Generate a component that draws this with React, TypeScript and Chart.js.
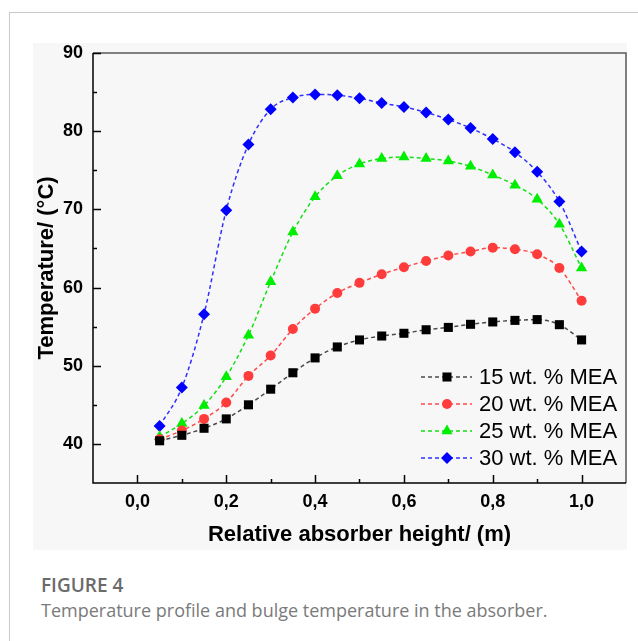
import React, { useEffect, useRef } from 'react';
import { Chart, registerables } from 'chart.js';
import { drawPoint } from 'chart.js/helpers';

Chart.register(...registerables);

// ---- data ----
const HEIGHTS = [0.05, 0.1, 0.15, 0.2, 0.25, 0.3, 0.35, 0.4, 0.45, 0.5, 0.55, 0.6, 0.65, 0.7, 0.75, 0.8, 0.85, 0.9, 0.95, 1.0];
const MEA15 = [40.4, 41.1, 42.0, 43.2, 45.0, 47.0, 49.1, 51.0, 52.4, 53.3, 53.8, 54.15, 54.6, 54.9, 55.3, 55.6, 55.8, 55.9, 55.25, 53.3];
const MEA20 = [40.6, 41.7, 43.2, 45.3, 48.7, 51.3, 54.7, 57.3, 59.3, 60.6, 61.7, 62.6, 63.4, 64.1, 64.6, 65.1, 64.9, 64.25, 62.5, 58.3];
const MEA25 = [40.9, 42.6, 44.9, 48.6, 53.9, 60.75, 67.1, 71.6, 74.3, 75.8, 76.5, 76.7, 76.5, 76.2, 75.5, 74.4, 73.1, 71.3, 68.1, 62.5];
const MEA30 = [42.3, 47.2, 56.6, 69.9, 78.3, 82.8, 84.3, 84.7, 84.6, 84.2, 83.6, 83.1, 82.4, 81.5, 80.4, 79.0, 77.3, 74.8, 71.0, 64.6];
const SERIES_LABELS = ['15 wt. % MEA', '20 wt. % MEA', '25 wt. % MEA', '30 wt. % MEA'];
const X_TICKS = [0, 0.2, 0.4, 0.6, 0.8, 1.0];
const Y_TICKS = [40, 50, 60, 70, 80, 90];
const X_RANGE = [-0.1, 1.1];
const Y_RANGE = [35, 90];
const X_TITLE = 'Relative absorber height/ (m)';
const Y_TITLE = 'Temperature/ (°C)';
const FIG_LABEL = 'FIGURE 4';
const FIG_CAPTION = 'Temperature profile and bulge temperature in the absorber.';

const FONT = 'Arial, "Liberation Sans", Helvetica, sans-serif';

const STYLES = [
  { line: '#4a4a4a', fill: '#000000', shape: 'rect', r: 6.4 },
  { line: '#ff4a4a', fill: '#ff3c3c', shape: 'circle', r: 5 },
  { line: '#12e012', fill: '#00ee00', shape: 'triangle', r: 6.5 },
  { line: '#3030ff', fill: '#0000ff', shape: 'rectRot', r: 6 },
];

const SERIES = [MEA15, MEA20, MEA25, MEA30];

const frameTicksPlugin = {
  id: 'frameTicks',
  beforeDatasetsDraw(chart: any) {
    const { ctx, chartArea: a, scales } = chart;
    const x = scales.x;
    const y = scales.y;
    ctx.save();
    ctx.lineWidth = 1.5;
    ctx.strokeStyle = '#5a5a5a';
    ctx.beginPath();
    ctx.moveTo(a.left, a.top);
    ctx.lineTo(a.right, a.top);
    ctx.lineTo(a.right, a.bottom);
    ctx.stroke();
    ctx.strokeStyle = '#000';
    ctx.beginPath();
    ctx.moveTo(a.left, a.top);
    ctx.lineTo(a.left, a.bottom);
    ctx.lineTo(a.right, a.bottom);
    ctx.stroke();

    const drawTicks = (scale: any, horizontal: boolean) => {
      const vals = scale.ticks.map((t: any) => t.value);
      const minors: number[] = [];
      for (let i = 0; i < vals.length - 1; i++) minors.push((vals[i] + vals[i + 1]) / 2);
      if (vals.length > 1) {
        const step = vals[1] - vals[0];
        const before = vals[0] - step / 2;
        const after = vals[vals.length - 1] + step / 2;
        if (before > scale.min + 1e-9) minors.push(before);
        if (after < scale.max - 1e-9) minors.push(after);
      }
      ctx.lineWidth = 1.5;
      ctx.strokeStyle = '#000';
      const seg = (v: number, len: number) => {
        const p = Math.round(scale.getPixelForValue(v)) + 0.5;
        ctx.beginPath();
        if (horizontal) {
          ctx.moveTo(p, a.bottom);
          ctx.lineTo(p, a.bottom - len);
        } else {
          ctx.moveTo(a.left, p);
          ctx.lineTo(a.left + len, p);
        }
        ctx.stroke();
      };
      vals.forEach((v: number) => seg(v, 8));
      minors.forEach((v: number) => seg(v, 4));
    };
    drawTicks(x, true);
    drawTicks(y, false);
    ctx.restore();
  },
};

const legendPlugin = {
  id: 'insideLegend',
  afterDatasetsDraw(chart: any) {
    const { ctx, chartArea: a } = chart;
    const textX = a.right - 147;
    const lineX0 = a.right - 205;
    const lineX1 = a.right - 154;
    const markX = a.right - 179;
    const y0 = a.bottom - 106;
    const step = 27;
    ctx.save();
    chart.data.datasets.forEach((ds: any, i: number) => {
      const yy = y0 + i * step;
      ctx.strokeStyle = ds.borderColor;
      ctx.lineWidth = ds.borderWidth;
      ctx.setLineDash(ds.borderDash);
      ctx.beginPath();
      ctx.moveTo(lineX0, yy);
      ctx.lineTo(lineX1, yy);
      ctx.stroke();
      ctx.setLineDash([]);
      ctx.fillStyle = ds.pointBackgroundColor;
      ctx.strokeStyle = ds.pointBorderColor;
      drawPoint(ctx, { pointStyle: ds.pointStyle, radius: ds.pointRadius, rotation: 0, borderWidth: 0 } as any, markX, yy);
      ctx.fillStyle = '#000';
      ctx.font = `22px ${FONT}`;
      ctx.textAlign = 'left';
      ctx.textBaseline = 'middle';
      ctx.fillText(ds.label, textX, yy + 1);
    });
    ctx.restore();
  },
};

function TempChart() {
  const ref = useRef<HTMLCanvasElement | null>(null);
  useEffect(() => {
    if (!ref.current) return;
    const datasets = SERIES.map((vals, i) => ({
      label: SERIES_LABELS[i],
      data: HEIGHTS.map((h, j) => ({ x: h, y: vals[j] })),
      borderColor: STYLES[i].line,
      borderWidth: 1.5,
      borderDash: [4, 3],
      backgroundColor: STYLES[i].fill,
      pointBackgroundColor: STYLES[i].fill,
      pointBorderColor: STYLES[i].fill,
      pointBorderWidth: 0,
      pointStyle: STYLES[i].shape,
      pointRadius: STYLES[i].r,
      cubicInterpolationMode: 'monotone' as const,
      fill: false,
    }));
    const chart = new Chart(ref.current, {
      type: 'line',
      data: { datasets },
      options: {
        animation: false,
        responsive: false,
        devicePixelRatio: 1,
        layout: { padding: { top: 53, right: 12, left: 0, bottom: 0 } },
        plugins: { legend: { display: false }, tooltip: { enabled: false } },
        scales: {
          x: {
            type: 'linear',
            min: X_RANGE[0],
            max: X_RANGE[1],
            afterBuildTicks: (s: any) => { s.ticks = X_TICKS.map((v) => ({ value: v })); },
            afterFit: (s: any) => { s.height = 77; },
            grid: { display: false, drawTicks: false },
            border: { display: false },
            ticks: {
              padding: 8,
              color: '#000',
              font: { family: FONT, size: 18, weight: 'bold' },
              callback: (v: any) => Number(v).toFixed(1).replace('.', ','),
              maxRotation: 0,
            },
            title: {
              display: true,
              text: X_TITLE,
              color: '#000',
              font: { family: FONT, size: 22, weight: 'bold' },
              padding: { top: 0, bottom: 12 },
            },
          },
          y: {
            type: 'linear',
            min: Y_RANGE[0],
            max: Y_RANGE[1],
            afterBuildTicks: (s: any) => { s.ticks = Y_TICKS.map((v) => ({ value: v })); },
            afterFit: (s: any) => { s.width = 93; },
            grid: { display: false, drawTicks: false },
            border: { display: false },
            ticks: {
              padding: 10,
              color: '#000',
              font: { family: FONT, size: 18, weight: 'bold' },
              callback: (v: any) => String(v),
            },
            title: {
              display: true,
              text: Y_TITLE,
              color: '#000',
              font: { family: FONT, size: 22, weight: 'bold' },
              padding: { top: 34, bottom: 0 },
            },
          },
        },
      } as any,
      plugins: [frameTicksPlugin, legendPlugin],
    });
    return () => chart.destroy();
  }, []);
  return <canvas ref={ref} width={638} height={560} style={{ position: 'absolute', left: 0, top: 0, width: 638, height: 560 }} />;
}

export default function App() {
  return (
    <div style={{ position: 'absolute', left: 0, top: 0, width: 638, height: 641, overflow: 'hidden', background: '#fff' }}>
      <div style={{ position: 'absolute', left: 9, top: 12, width: 640, height: 640, borderTop: '1.5px solid #c9c9c9', borderLeft: '1.5px solid #c9c9c9' }} />
      <div style={{ position: 'absolute', left: 33, top: 43, width: 594, height: 507, background: '#f7f7f7' }} />
      <TempChart />
      <div style={{ position: 'absolute', left: 41, top: 573, fontFamily: '"Open Sans", "Noto Sans", sans-serif', fontSize: 19, lineHeight: '24px', fontWeight: 600, color: '#6b6b6b', whiteSpace: 'nowrap' }}>{FIG_LABEL}</div>
      <div style={{ position: 'absolute', left: 41, top: 598, fontFamily: '"Open Sans", "Noto Sans", sans-serif', fontSize: 18, lineHeight: '24px', fontWeight: 400, color: '#7a7a7a', whiteSpace: 'nowrap' }}>{FIG_CAPTION}</div>
    </div>
  );
}
